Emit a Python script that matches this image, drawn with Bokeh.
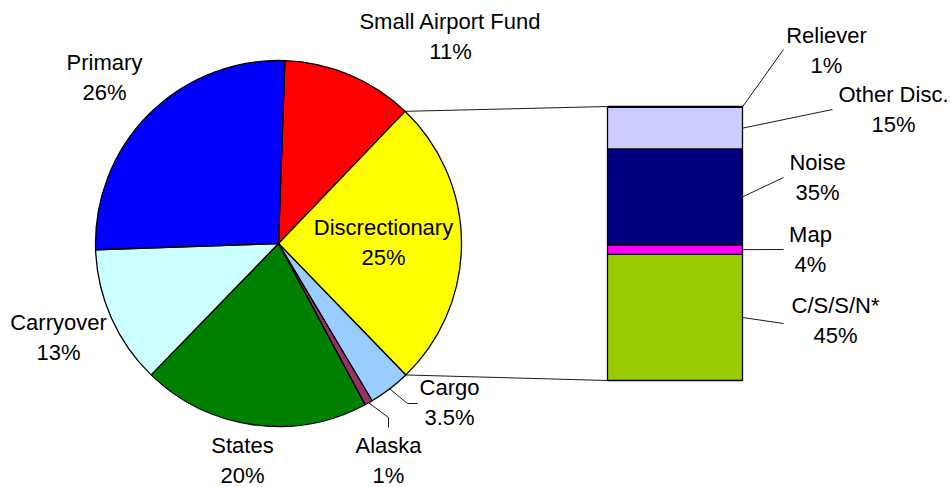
import numpy as np
from bokeh.plotting import figure
from bokeh.models import Range1d, ColumnDataSource
from bokeh.core.properties import value
from bokeh.embed import file_html
from bokeh.resources import INLINE

# ---------------- data ----------------
# Pie slices, clockwise from the top
pie_names = ["Small Airport Fund", "Discrectionary", "Cargo", "Alaska", "States", "Carryover", "Primary"]
pie_pct_labels = ["11%", "25%", "3.5%", "1%", "20%", "13%", "26%"]
pie_values = [11.6, 25.6, 3.7, 0.7, 20.1, 12.2, 26.1]
pie_colors = ["#FF0000", "#FFFF00", "#99CCFF", "#993366", "#008000", "#CCFFFF", "#0000FF"]

# Breakdown of the Discretionary slice, bottom to top
bar_names = ["C/S/S/N*", "Map", "Noise", "Other Disc.", "Reliever"]
bar_pct_labels = ["45%", "4%", "35%", "15%", "1%"]
bar_values = [46.0, 3.5, 35.0, 15.2, 0.3]
bar_colors = ["#99CC00", "#FF00FF", "#000080", "#CCCCFF", "#CCCCFF"]

# ---------------- layout ----------------
W, H = 951, 487
FONT = value("Liberation Sans")
FS = "22px"
LINE_GAP = 30


def X(px):
    return px


def Y(py):
    return H - py


cx, cy, R = X(278), Y(243), 183
start_deg = 88.0
bx0, bx1 = X(607), X(742)
bar_bot, bar_top = Y(380), Y(106)

p = figure(width=W, height=H, output_backend="svg", toolbar_location=None,
           x_range=Range1d(0, W), y_range=Range1d(0, H),
           min_border=0, outline_line_color=None)
p.axis.visible = False
p.grid.visible = False
p.background_fill_color = "white"
p.border_fill_color = "white"

# ---- pie ----
vals = np.array(pie_values, dtype=float)
frac = vals / vals.sum()
cum = np.cumsum(frac)
before = cum - frac
starts = np.deg2rad(start_deg - 360 * before)
ends = np.deg2rad(start_deg - 360 * cum)
mids = (starts + ends) / 2
pie_src = ColumnDataSource(dict(start=starts, end=ends, color=pie_colors, name=pie_names))
p.wedge(x=cx, y=cy, radius=R, start_angle="start", end_angle="end", direction="clock",
        fill_color="color", line_color="black", line_width=1.3, source=pie_src)

# ---- stacked bar ----
bv = np.array(bar_values, dtype=float)
bf = bv / bv.sum()
bcum = np.cumsum(bf)
bbefore = bcum - bf
bh = bar_top - bar_bot
bottoms = bar_bot + bh * bbefore
tops = bar_bot + bh * bcum
bar_src = ColumnDataSource(dict(bottom=bottoms, top=tops, color=bar_colors, name=bar_names))
p.quad(left=bx0, right=bx1, bottom="bottom", top="top", fill_color="color",
       line_color="black", line_width=1.3, source=bar_src)

# ---- connector lines from the Discretionary slice to the bar ----
di = pie_names.index("Discrectionary")
p1 = (cx + R * np.cos(starts[di]), cy + R * np.sin(starts[di]))
p2 = (cx + R * np.cos(ends[di]), cy + R * np.sin(ends[di]))
p.segment(x0=[p1[0], p2[0]], y0=[p1[1], p2[1]], x1=[bx0, bx0], y1=[bar_top, bar_bot],
          line_color="black", line_width=0.9)

# ---- leader lines: pie ----
pie_leaders = {"Cargo": [(X(407), Y(403)), (X(417), Y(403))],
               "Alaska": [(X(388), Y(417)), (X(388), Y(427))]}
for name, pts in pie_leaders.items():
    i = pie_names.index(name)
    x0 = cx + R * np.cos(mids[i])
    y0 = cy + R * np.sin(mids[i])
    xs = [x0] + [q[0] for q in pts]
    ys = [y0] + [q[1] for q in pts]
    p.line(xs, ys, line_color="black", line_width=0.9)

# ---- leader lines: bar ----
bar_leader_end = {"Reliever": (X(783), Y(49)), "Other Disc.": (X(832), Y(109)),
                  "Noise": (X(783), Y(177)), "Map": (X(783), Y(249)),
                  "C/S/S/N*": (X(783), Y(323))}
for i, name in enumerate(bar_names):
    ym = (bottoms[i] + tops[i]) / 2
    ex, ey = bar_leader_end[name]
    p.line([bx1, ex], [ym, ey], line_color="black", line_width=0.9)

# ---- labels (centre of name line in screen px) ----
pie_label_pos = {"Small Airport Fund": (450, 21), "Discrectionary": (383, 227),
                 "Cargo": (449, 387), "Alaska": (388, 445), "States": (242, 445),
                 "Carryover": (58, 322), "Primary": (104, 62)}
bar_label_pos = {"Reliever": (826, 35), "Other Disc.": (893, 94), "Noise": (817, 162),
                 "Map": (810, 234), "C/S/S/N*": (835, 305)}

tx, ty, tt = [], [], []
for name, pct in zip(pie_names, pie_pct_labels):
    px_, py_ = pie_label_pos[name]
    tx += [X(px_), X(px_)]
    ty += [Y(py_), Y(py_) - LINE_GAP]
    tt += [name, pct]
for name, pct in zip(bar_names, bar_pct_labels):
    px_, py_ = bar_label_pos[name]
    tx += [X(px_), X(px_)]
    ty += [Y(py_), Y(py_) - LINE_GAP]
    tt += [name, pct]

p.text(x=tx, y=ty, text=tt, text_font=FONT, text_font_size=FS, text_color="black",
       text_align="center", text_baseline="middle")

open("out.html", "w").write(file_html(p, INLINE))
